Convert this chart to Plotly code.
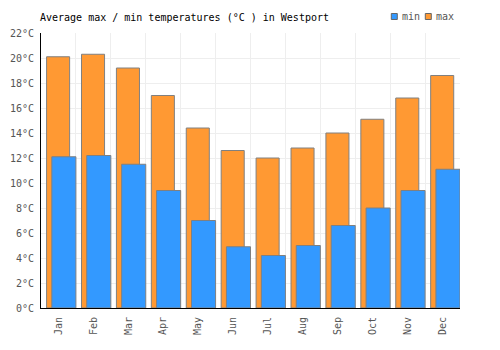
import plotly.graph_objects as go

months = ["Jan", "Feb", "Mar", "Apr", "May", "Jun", "Jul", "Aug", "Sep", "Oct", "Nov", "Dec"]
max_temps = [20.1, 20.3, 19.2, 17.0, 14.4, 12.6, 12.0, 12.8, 14.0, 15.1, 16.8, 18.6]
min_temps = [12.1, 12.2, 11.5, 9.4, 7.0, 4.9, 4.2, 5.0, 6.6, 8.0, 9.4, 11.1]

W, H = 500, 350
L, R, T, B = 41, 40, 33, 42
PW, PH = W - L - R, H - T - B
FONT = "DejaVu Sans Mono"

def px_x(p):
    return (p - L) / PW

def px_y(p):
    return (H - B - p) / PH

fig = go.Figure()
fig.add_trace(go.Bar(
    x=months, y=max_temps, name="max",
    marker=dict(color="#FF9933", line=dict(color="#808080", width=1)),
    offset=-0.34, width=0.66,
))
fig.add_trace(go.Bar(
    x=months, y=min_temps, name="min",
    marker=dict(color="#3399FF", line=dict(color="#808080", width=1)),
    offset=-0.19, width=0.69,
))

shapes = []
annotations = []
for x0, color, label in [(391.3, "#3399FF", "min"), (425.3, "#FF9933", "max")]:
    shapes.append(dict(type="rect", xref="paper", yref="paper",
                       x0=px_x(x0), x1=px_x(x0 + 6), y0=px_y(19.5), y1=px_y(13.5),
                       fillcolor=color, line=dict(color="#666666", width=1)))
    annotations.append(dict(xref="paper", yref="paper", x=px_x(x0 + 9), y=px_y(16.5),
                            text=label, showarrow=False, xanchor="left", yanchor="middle",
                            font=dict(family=FONT, size=10, color="#555555")))

fig.update_layout(
    width=W, height=H,
    margin=dict(l=L, r=R, t=T, b=B, pad=0, autoexpand=False),
    paper_bgcolor="white", plot_bgcolor="white",
    barmode="overlay",
    showlegend=False,
    font=dict(family=FONT, size=10, color="#555555"),
    title=dict(text="Average max / min temperatures (°C ) in Westport",
               x=40 / W, xref="container", xanchor="left",
               y=1 - 17 / H, yref="container", yanchor="middle",
               font=dict(family=FONT, size=10, color="#000000")),
    xaxis=dict(type="category", tickson="boundaries", showgrid=True, gridcolor="#eeeeee",
               gridwidth=1, showline=True, linecolor="#000000", linewidth=1,
               tickangle=-90, ticks="", ticklen=0, ticklabelstandoff=4, automargin=False,
               tickfont=dict(family=FONT, size=10, color="#555555"),
               range=[-0.5, 11.5], mirror=False),
    yaxis=dict(range=[0, 22], dtick=2, ticksuffix="°C", showgrid=True, gridcolor="#eeeeee",
               gridwidth=1, showline=True, linecolor="#000000", linewidth=1,
               zeroline=False, ticks="", ticklabelstandoff=4, automargin=False,
               tickfont=dict(family=FONT, size=10, color="#555555")),
    shapes=shapes,
    annotations=annotations,
)

fig.write_html("out.html")
